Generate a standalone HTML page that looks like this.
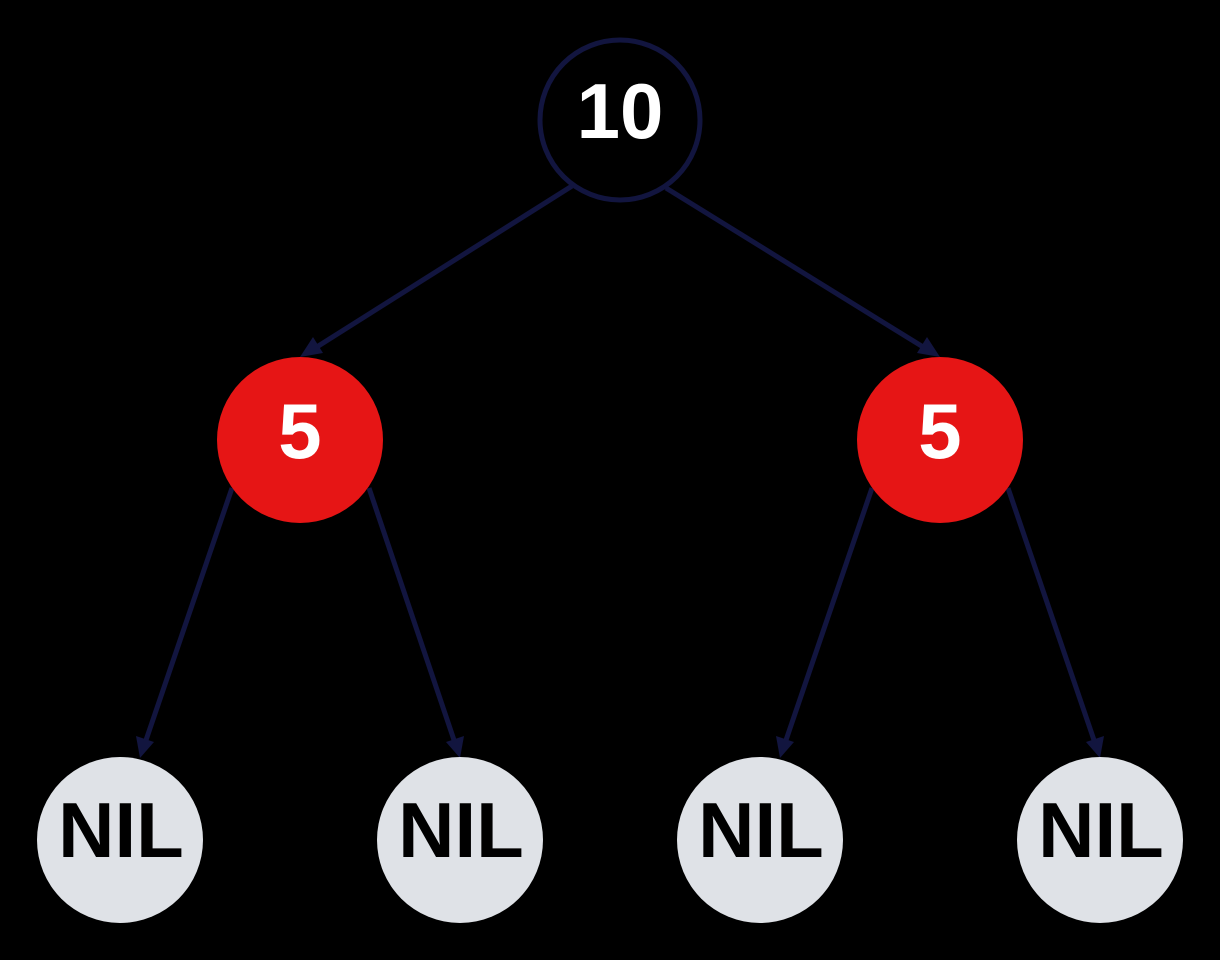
<!DOCTYPE html>
<html><head><style>html,body{margin:0;padding:0;background:#000;}svg{display:block}</style></head>
<body>
<svg width="1220" height="960" viewBox="0 0 1220 960" xmlns="http://www.w3.org/2000/svg">
<defs>
<marker id="a" markerWidth="8" markerHeight="8" refX="7" refY="4" orient="auto" markerUnits="userSpaceOnUse" viewBox="0 0 8 8">
</marker>
</defs>
<rect width="1220" height="960" fill="#000"/>
<g stroke="#12153f" stroke-width="5" fill="none">
<line x1="572" y1="186" x2="312" y2="350"/>
<line x1="666" y1="188" x2="928" y2="350"/>
<line x1="232" y1="488" x2="144" y2="746"/>
<line x1="369" y1="488" x2="456" y2="746"/>
<line x1="872" y1="488" x2="784" y2="746"/>
<line x1="1008" y1="488" x2="1096" y2="746"/>
</g>
<g fill="#12153f">
<polygon points="300,357 313,337 323,353"/>
<polygon points="940,357 917,353 927,337"/>
<polygon points="140,758 136,736 154,742"/>
<polygon points="460,758 446,742 464,736"/>
<polygon points="780,758 776,736 794,742"/>
<polygon points="1100,758 1086,742 1104,736"/>
</g>
<circle cx="620" cy="120" r="80" fill="#000" stroke="#12153f" stroke-width="5"/>
<circle cx="300" cy="440" r="83" fill="#e61515"/>
<circle cx="940" cy="440" r="83" fill="#e61515"/>
<g fill="#dfe2e7">
<circle cx="120" cy="840" r="83"/>
<circle cx="460" cy="840" r="83"/>
<circle cx="760" cy="840" r="83"/>
<circle cx="1100" cy="840" r="83"/>
</g>
<g font-family="Liberation Sans, sans-serif" font-weight="bold" font-size="78" text-anchor="middle">
<text x="620" y="138" fill="#fff">10</text>
<text x="300" y="458" fill="#fff">5</text>
<text x="940" y="458" fill="#fff">5</text>
<text x="121" y="857" fill="#000">NIL</text>
<text x="461" y="857" fill="#000">NIL</text>
<text x="761" y="857" fill="#000">NIL</text>
<text x="1101" y="857" fill="#000">NIL</text>
</g>
</svg>
</body></html>
